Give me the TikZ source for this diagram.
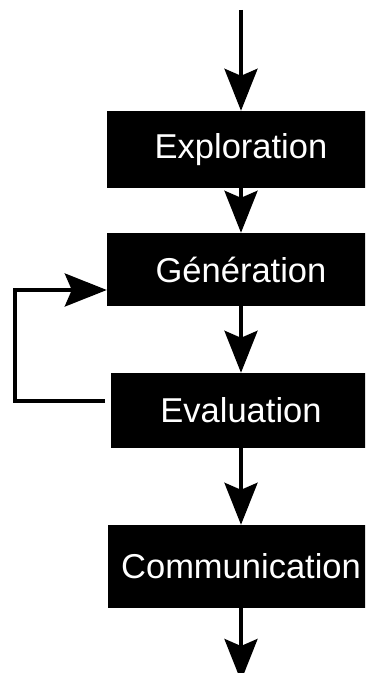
\documentclass[tikz,border=0pt]{standalone}
\usepackage{fontspec}
\setmainfont{Liberation Sans}
\usetikzlibrary{arrows.meta}

\begin{document}
\begin{tikzpicture}[x=1pt,y=1pt]
	\tikzstyle{etape}=[fill=black,text=white,inner sep=0pt,font=\fontsize{34.5}{40}\selectfont]
	\tikzstyle{fleche}=[line width=3.7pt,-{Stealth[length=42pt,width=33pt,inset=7pt]}]
	\useasboundingbox (0,0) rectangle (365,673);
	\clip (0,0) rectangle (365,673);
	\node [etape,minimum width=268pt,minimum height=77pt] (expl) at (241,523.5) {Exploration};
	\node [etape,minimum width=268pt,minimum height=73pt] (gen) at (241,403.5) {Génération};
	\node [etape,minimum width=260pt,minimum height=75pt] (eval) at (241,262.5) {Evaluation};
	\node [etape,minimum width=266pt,minimum height=83pt] (comm) at (241,106.5) {Communication};
	\coordinate (entree) at (241,663);
	\coordinate (sortie) at (241,-8);
	\coordinate (fbdebut) at (105,272);
	\coordinate (fbcoin) at (15,383);
	\draw [fleche] (entree) -- (expl);
	\draw [fleche] (expl) -- (gen);
	\draw [fleche] (gen) -- (eval);
	\draw [fleche] (eval) -- (comm);
	\draw [fleche] (comm) -- (sortie);
	\draw [fleche] (fbdebut) -| (fbcoin) -- (gen.west |- fbcoin);
\end{tikzpicture}
\end{document}
